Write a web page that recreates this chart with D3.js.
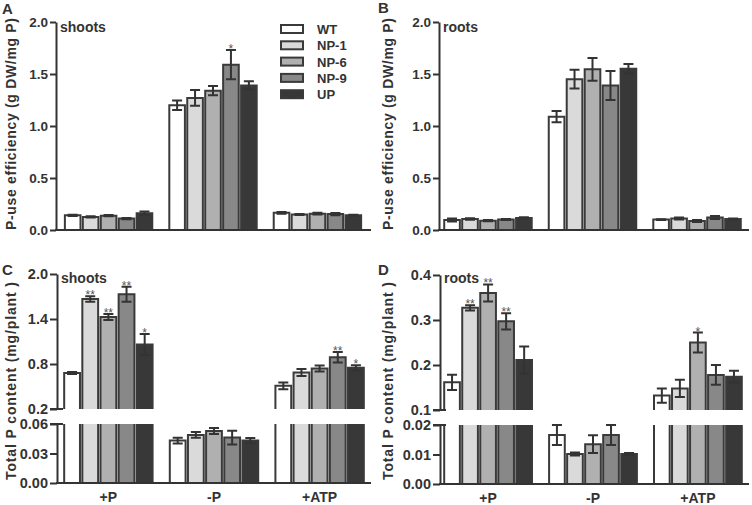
<!DOCTYPE html>
<html><head><meta charset="utf-8">
<script src="https://cdn.jsdelivr.net/npm/d3@7"></script>
<style>
html,body{margin:0;padding:0;background:#fff;}
svg text{font-family:"Liberation Sans",Arial,sans-serif;font-weight:bold;fill:#333;}
</style></head>
<body>
<svg id="chart" width="752" height="505"></svg>
<script>
// ---------- data ----------
const series = ["WT", "NP-1", "NP-6", "NP-9", "UP"];
const groups = ["+P", "-P", "+ATP"];
const seriesColors = ["#ffffff", "#dadada", "#b0b0b0", "#888888", "#383838"];

// A: shoots P-use efficiency (rows = groups, cols = series)
const pueShoots = [[0.141, 0.126, 0.138, 0.110, 0.162], [1.20, 1.27, 1.34, 1.59, 1.39], [0.165, 0.150, 0.157, 0.153, 0.141]];
const pueShootsErr = [[0.006, 0.006, 0.006, 0.006, 0.016], [0.045, 0.075, 0.045, 0.14, 0.04], [0.008, 0.005, 0.008, 0.01, 0.005]];
const pueShootsSig = [["", "", "", "", ""], ["", "", "", "*", ""], ["", "", "", "", ""]];

// B: roots P-use efficiency
const pueRoots = [[0.096, 0.106, 0.090, 0.100, 0.115], [1.09, 1.45, 1.545, 1.39, 1.55], [0.100, 0.110, 0.087, 0.120, 0.105]];
const pueRootsErr = [[0.015, 0.008, 0.005, 0.005, 0.008], [0.055, 0.09, 0.11, 0.14, 0.045], [0.004, 0.01, 0.01, 0.015, 0.005]];
const pueRootsSig = [["", "", "", "", ""], ["", "", "", "", ""], ["", "", "", "", ""]];

// C: shoots total P content
const pShoots = [[0.68, 1.667, 1.428, 1.729, 1.06], [0.0431, 0.0489, 0.0529, 0.0462, 0.0431], [0.51, 0.688, 0.741, 0.891, 0.75]];
const pShootsErr = [[0.012, 0.036, 0.04, 0.10, 0.14], [0.003, 0.003, 0.003, 0.007, 0.0027], [0.045, 0.047, 0.04, 0.07, 0.035]];
const pShootsSig = [["", "**", "**", "**", "*"], ["", "", "", "", ""], ["", "", "", "**", "*"]];

// D: roots total P content
const pRoots = [[0.1615, 0.327, 0.360, 0.297, 0.211], [0.0166, 0.0102, 0.0135, 0.0166, 0.0102], [0.132, 0.148, 0.250, 0.178, 0.174]];
const pRootsErr = [[0.017, 0.006, 0.019, 0.018, 0.03], [0.0034, 0.0005, 0.003, 0.0034, 0.0003], [0.016, 0.019, 0.022, 0.022, 0.013]];
const pRootsSig = [["", "**", "**", "**", ""], ["", "", "", "", ""], ["", "", "*", "", ""]];

const ticksPUE = [0, 0.5, 1.0, 1.5, 2.0];
const ticksShootsTop = [0.2, 0.8, 1.4, 2.0];
const ticksShootsBottom = [0, 0.03, 0.06];
const ticksRootsTop = [0.1, 0.2, 0.3, 0.4];
const ticksRootsBottom = [0, 0.01, 0.02];

// ---------- drawing ----------
const svg = d3.select("#chart");
const ink = "#333";

function panel(cfg) {
  const g = svg.append("g");
  const x0 = d3.scaleBand().domain(groups).range(cfg.xRange).paddingInner(0.163).paddingOuter(cfg.outer);
  const x1 = d3.scaleBand().domain(series).range([0, x0.bandwidth()]).padding(0.13).paddingOuter(0);
  const segs = cfg.segments.map(s => ({...s, y: d3.scaleLinear().domain(s.domain).range(s.range)}));
  const baseY = segs[0].range[0];
  const axX = cfg.axisX;

  // bars
  groups.forEach((gr, gi) => {
    series.forEach((se, si) => {
      const v = cfg.values[gi][si], e = cfg.errors[gi][si];
      const bx = x0(gr) + x1(se), bw = x1.bandwidth();
      segs.forEach((s, k) => {
        const lo = s.domain[0], hi = s.domain[1];
        if (v <= lo) return;
        const yb = s.y(lo), yt = s.y(Math.min(v, hi));
        const openTop = v > hi;
        g.append("rect").attr("x", bx).attr("y", yt).attr("width", bw).attr("height", yb - yt)
          .attr("fill", seriesColors[si]);
        let p = d3.path();
        if (openTop) { p.moveTo(bx, yt); p.lineTo(bx, yb); p.moveTo(bx + bw, yt); p.lineTo(bx + bw, yb); }
        else { p.moveTo(bx, yb); p.lineTo(bx, yt); p.lineTo(bx + bw, yt); p.lineTo(bx + bw, yb); }
        g.append("path").attr("d", p.toString()).attr("fill", "none").attr("stroke", "#3a3a3a").attr("stroke-width", 2);
        if (!openTop) {
          const cx = bx + bw / 2, ya = s.y(v + e), yl = s.y(Math.max(v - e, lo));
          const cw = 5;
          const ep = d3.path();
          ep.moveTo(cx, ya); ep.lineTo(cx, yl);
          ep.moveTo(cx - cw, ya); ep.lineTo(cx + cw, ya);
          ep.moveTo(cx - cw, s.y(v - e)); ep.lineTo(cx + cw, s.y(v - e));
          g.append("path").attr("d", ep.toString()).attr("fill", "none").attr("stroke", ink).attr("stroke-width", 2);
          const sig = cfg.sig[gi][si];
          if (sig) {
            g.append("text").attr("x", cx).attr("y", ya + 3).attr("text-anchor", "middle")
              .style("font-size", "12px").style("font-weight", "normal").style("fill", "#555").text(sig);
          }
        }
      });
    });
  });

  // y axes (per segment)
  segs.forEach((s, k) => {
    const ax = g.append("g").attr("transform", `translate(${axX},0)`)
      .call(d3.axisLeft(s.y).tickValues(s.ticks).tickFormat(d3.format(s.fmt)).tickSize(cfg.tickLen).tickSizeOuter(0));
    ax.select(".domain").attr("stroke", ink).attr("stroke-width", 2);
    ax.selectAll(".tick line").attr("stroke", ink).attr("stroke-width", 2);
    ax.selectAll(".tick text").style("font-size", cfg.tickFont).attr("fill", ink).attr("x", -cfg.tickLen - 2);
    // break marks extend across axis
    if (segs.length > 1) {
      const yb = k === 0 ? s.y(s.domain[1]) : s.y(s.domain[0]);
      g.append("line").attr("x1", axX - cfg.tickLen).attr("x2", axX + 6).attr("y1", yb).attr("y2", yb)
        .attr("stroke", ink).attr("stroke-width", 2);
    }
  });

  // x axis baseline
  g.append("line").attr("x1", axX - 1).attr("x2", cfg.xEnd).attr("y1", baseY).attr("y2", baseY)
    .attr("stroke", ink).attr("stroke-width", 2);
  if (cfg.xLabels) {
    groups.forEach(gr => {
      g.append("text").attr("x", x0(gr) + x0.bandwidth() / 2).attr("y", baseY + 19)
        .attr("text-anchor", "middle").style("font-size", "14px").text(gr);
    });
  }
  // tissue label
  g.append("text").attr("x", axX + 4).attr("y", cfg.tissueY).style("font-size", "14px").text(cfg.tissue);
  // panel letter
  g.append("text").attr("x", cfg.letterX).attr("y", cfg.letterY).style("font-size", "15px").text(cfg.letter);
  // y title
  g.append("text").attr("transform", `translate(${cfg.titleX},${cfg.titleY}) rotate(-90)`)
    .attr("text-anchor", "middle").style("font-size", "14px")
    .attr("textLength", cfg.titleLen).attr("lengthAdjust", "spacing").text(cfg.title);
}

panel({
  letter: "A", letterX: 2, letterY: 14, tissue: "shoots", tissueY: 32,
  title: "P-use efficiency (g DW/mg P)", titleX: 16, titleY: 124, titleLen: 212,
  axisX: 56, xRange: [56, 370], outer: 0.085, xEnd: 371, tickLen: 6, tickFont: "13.5px",
  segments: [{domain: [0, 2], range: [230, 22], ticks: ticksPUE, fmt: ".1f"}],
  values: pueShoots, errors: pueShootsErr, sig: pueShootsSig, xLabels: false
});
panel({
  letter: "B", letterX: 378, letterY: 13, tissue: "roots", tissueY: 32,
  title: "P-use efficiency (g DW/mg P)", titleX: 393, titleY: 124, titleLen: 212,
  axisX: 439, xRange: [439, 746], outer: 0.05, xEnd: 749, tickLen: 6, tickFont: "13.5px",
  segments: [{domain: [0, 2], range: [230, 22], ticks: ticksPUE, fmt: ".1f"}],
  values: pueRoots, errors: pueRootsErr, sig: pueRootsSig, xLabels: false
});
panel({
  letter: "C", letterX: 2, letterY: 275, tissue: "shoots", tissueY: 283,
  title: "Total P content (mg/plant )", titleX: 16, titleY: 381, titleLen: 198,
  axisX: 57, xRange: [57, 371], outer: 0.068, xEnd: 371, tickLen: 7, tickFont: "14.5px",
  segments: [
    {domain: [0, 0.06], range: [483, 424], ticks: ticksShootsBottom, fmt: ".2f"},
    {domain: [0.2, 2.0], range: [409, 274], ticks: ticksShootsTop, fmt: ".1f"}
  ],
  values: pShoots, errors: pShootsErr, sig: pShootsSig, xLabels: true
});
panel({
  letter: "D", letterX: 378, letterY: 275, tissue: "roots", tissueY: 283,
  title: "Total P content (mg/plant )", titleX: 393, titleY: 381, titleLen: 198,
  axisX: 440, xRange: [440, 746], outer: 0.04, xEnd: 749, tickLen: 7, tickFont: "14.5px",
  segments: [
    {domain: [0, 0.02], range: [484, 425], ticks: ticksRootsBottom, fmt: ".2f"},
    {domain: [0.1, 0.4], range: [410, 275], ticks: ticksRootsTop, fmt: ".1f"}
  ],
  values: pRoots, errors: pRootsErr, sig: pRootsSig, xLabels: true
});

// legend
const leg = svg.append("g");
series.forEach((s, i) => {
  const y = 29 + i * 16.3;
  leg.append("rect").attr("x", 281).attr("y", y - 4).attr("width", 22).attr("height", 8)
    .attr("fill", seriesColors[i]).attr("stroke", "#3a3a3a").attr("stroke-width", 2);
  leg.append("text").attr("x", 317).attr("y", y + 5).style("font-size", "13px").text(s);
});
</script>
</body></html>
